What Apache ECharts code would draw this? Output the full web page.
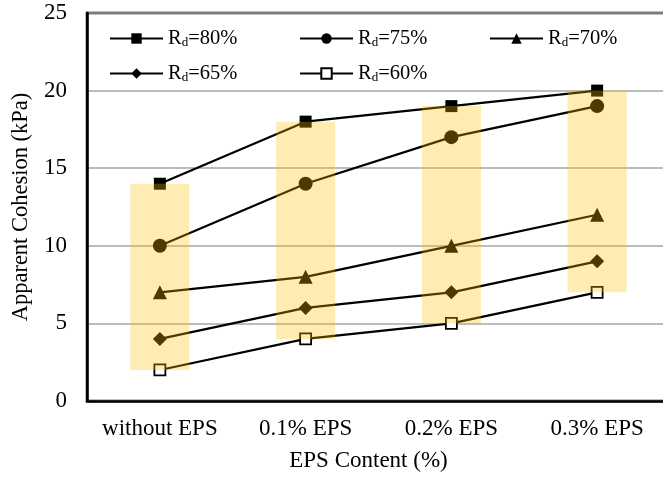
<!DOCTYPE html>
<html>
<head>
<meta charset="utf-8">
<script src="https://cdn.jsdelivr.net/npm/echarts@6/dist/echarts.min.js"></script>
<style>
  html, body { margin: 0; padding: 0; background: #fff; }
  #chart { width: 663px; height: 477px; }
</style>
</head>
<body>
<div id="chart"></div>
<script>
// EPS content categories
const categories = ['without EPS', '0.1% EPS', '0.2% EPS', '0.3% EPS'];

// Apparent cohesion (kPa) for each relative density
const rd80 = [14, 18, 19, 20];
const rd75 = [10, 14, 17, 19];
const rd70 = [7, 8, 10, 12];
const rd65 = [4, 6, 7, 9];
const rd60 = [2, 4, 5, 7];

const seriesNames = ['Rd=80%', 'Rd=75%', 'Rd=70%', 'Rd=65%', 'Rd=60%'];
const yTicks = [0, 5, 10, 15, 20, 25];

const allSeries = [rd80, rd75, rd70, rd65, rd60];
// Range band per category: lowest to highest cohesion
const rangeLow = categories.map((_, i) => Math.min(...allSeries.map(s => s[i])));
const rangeSpan = categories.map((_, i) => Math.max(...allSeries.map(s => s[i])) - rangeLow[i]);

const FONT = "'Liberation Serif', 'Times New Roman', serif";

const markers = [
  { symbol: 'rect', size: 12, fill: '#000' },
  { symbol: 'circle', size: 14, fill: '#000' },
  { symbol: 'triangle', size: 14, fill: '#000' },
  { symbol: 'diamond', size: 14, fill: '#000' },
  { symbol: 'rect', size: 11, fill: '#fff' }
];

const lineSeries = allSeries.map((vals, k) => ({
  name: seriesNames[k],
  type: 'line',
  data: vals,
  symbol: markers[k].symbol,
  symbolSize: markers[k].size,
  z: 2,
  lineStyle: { color: '#000', width: 2.2 },
  itemStyle: { color: markers[k].fill, borderColor: '#000', borderWidth: markers[k].fill === '#fff' ? 1.8 : 0 },
  emphasis: { disabled: true },
  animation: false
}));

const legendPos = [
  { left: 109, top: 28 }, { left: 299, top: 28 }, { left: 489, top: 28 },
  { left: 109, top: 63 }, { left: 299, top: 63 }
];

const legends = seriesNames.map((n, k) => ({
  data: [n],
  left: legendPos[k].left,
  top: legendPos[k].top,
  padding: 0,
  itemWidth: 53,
  itemHeight: 13,
  selectedMode: false,
  formatter: name => name.replace('Rd', 'R{sub|d}'),
  textStyle: {
    fontFamily: FONT, fontSize: 20.5, color: '#000',
    rich: {
      sub: { fontFamily: FONT, fontSize: 13, color: '#000', verticalAlign: 'bottom', padding: [8, 0, 0, 0] }
    }
  }
}));

const chart = echarts.init(document.getElementById('chart'), null, { renderer: 'canvas' });
chart.setOption({
  animation: false,
  backgroundColor: '#fff',
  grid: {
    left: 87, top: 13, width: 583, height: 388,
    outerBoundsMode: 'none',
    show: true, borderColor: '#000', borderWidth: 2.5, containLabel: false
  },
  legend: legends,
  xAxis: {
    type: 'category',
    data: categories,
    boundaryGap: true,
    axisLine: { lineStyle: { color: '#000', width: 2.5 } },
    axisTick: { show: false },
    axisLabel: { fontFamily: FONT, fontSize: 23, color: '#000', margin: 16, interval: 0, hideOverlap: false },
    name: 'EPS Content (%)',
    nameLocation: 'middle',
    nameGap: 48,
    nameTextStyle: { fontFamily: FONT, fontSize: 23, color: '#000', padding: [0, 20, 0, 0] }
  },
  yAxis: {
    type: 'value',
    min: yTicks[0],
    max: yTicks[yTicks.length - 1],
    interval: 5,
    axisLine: { show: true, lineStyle: { color: '#000', width: 2.5 } },
    axisTick: { show: false },
    axisLabel: { fontFamily: FONT, fontSize: 23, color: '#000', margin: 20 },
    splitLine: { lineStyle: { color: '#a6a6a6', width: 1.5 } },
    name: 'Apparent Cohesion (kPa)',
    nameLocation: 'middle',
    nameGap: 54,
    nameTextStyle: { fontFamily: FONT, fontSize: 22.5, color: '#000' }
  },
  series: [
    ...lineSeries,
    {
      name: 'rangeBase',
      type: 'bar',
      stack: 'range',
      data: rangeLow,
      barWidth: 59,
      itemStyle: { color: 'rgba(0,0,0,0)' },
      emphasis: { disabled: true },
      z: 5
    },
    {
      name: 'range',
      type: 'bar',
      stack: 'range',
      data: rangeSpan,
      barWidth: 59,
      itemStyle: { color: 'rgba(255,192,0,0.3)' },
      emphasis: { disabled: true },
      z: 5
    }
  ]
});
</script>
</body>
</html>
